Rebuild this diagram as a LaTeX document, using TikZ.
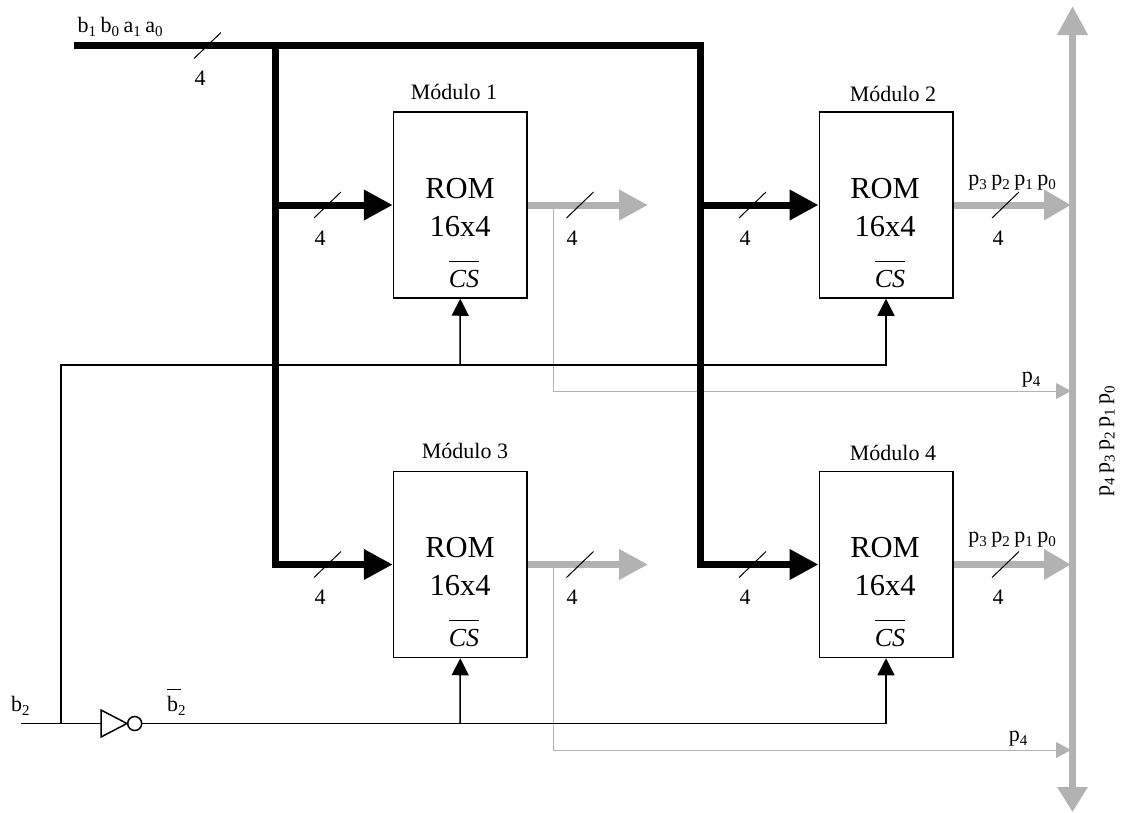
\documentclass[tikz,border=0pt]{standalone}
\usepackage{fontspec}
\setmainfont{Liberation Serif}
\usetikzlibrary{arrows.meta}
\definecolor{busgray}{RGB}{178,178,178}
\newcommand{\ovl}[3]{\setbox0=\hbox{#3}\rlap{\rule[#1]{\wd0}{#2}}\box0}
\newcommand{\subs}[2]{#1\raisebox{-0.22em}{\fontsize{15}{17}\selectfont #2}}
\newcommand{\gp}{\hspace{4.5pt}}
\newcommand{\busmark}[2]{\draw[markline] (#1-13.5,#2+13) -- (#1+13.5,#2-13);}
\tikzset{
  x=1pt,y=-1pt,
  rombox/.style={draw,line width=1.5pt,minimum width=133.5pt,minimum height=186pt,inner sep=0pt},
  blackbus/.style={line width=7pt,black,line join=miter},
  graybus/.style={line width=7pt,busgray},
  wideblack/.style={blackbus,-{Triangle[length=29pt,width=29pt]}},
  widegray/.style={graybus,-{Triangle[length=29pt,width=29pt]}},
  ctrl/.style={line width=1.5pt,black},
  ctrlarrow/.style={ctrl,-{Triangle[length=17pt,width=17pt]}},
  thingray/.style={line width=1pt,busgray},
  thinarrow/.style={thingray,-{Triangle[length=15pt,width=16pt]}},
  markline/.style={line width=1pt,black},
  small/.style={inner sep=0pt,anchor=base,font=\fontsize{22}{26}\selectfont},
  big/.style={inner sep=0pt,anchor=base,font=\fontsize{30.5}{34}\selectfont},
  csbar/.style={inner sep=0pt,anchor=base,font=\fontsize{26}{30}\selectfont\itshape},
}
\begin{document}
\begin{tikzpicture}
\useasboundingbox (0,0) rectangle (1125,812);
% coordinates
\coordinate (start) at (74,45);
\coordinate (lefttop) at (275,45);
\coordinate (rightcorner) at (700,45);
\coordinate (leftbot) at (275,564.5);
\coordinate (rightbot) at (700,564.5);
\coordinate (j1) at (275,205);
\coordinate (j2) at (700,205);
\coordinate (o1) at (648,205);
\coordinate (o3) at (648,564.5);
\coordinate (tapa) at (553,205);
\coordinate (tapb) at (553,391);
\coordinate (tapc) at (553,564.5);
\coordinate (tapd) at (553,750);
\coordinate (busa) at (1071,205);
\coordinate (busb) at (1071,391);
\coordinate (busc) at (1071,564.5);
\coordinate (busd) at (1071,750);
\coordinate (bustop) at (1072.5,6);
\coordinate (busbot) at (1072.5,812);
\coordinate (in) at (21,723.5);
\coordinate (split) at (61,723.5);
\coordinate (upleft) at (61,365);
\coordinate (t1) at (460,365);
\coordinate (t2) at (886,365);
\coordinate (t3) at (460,723.5);
\coordinate (t4) at (886,723.5);
% modules
\node[rombox] (m1) at (460.25,205) {};
\node[rombox] (m2) at (886,205) {};
\node[rombox] (m3) at (460.25,564.5) {};
\node[rombox] (m4) at (886,564.5) {};
% gray bus and outputs
\draw[graybus,{Triangle[length=29pt,width=29pt]}-{Triangle[length=25pt,width=29pt]}] (bustop) -- (busbot);
\draw[thingray] (tapa) -- (tapb);
\draw[thinarrow] (tapb) -- (busb);
\draw[thingray] (tapc) -- (tapd);
\draw[thinarrow] (tapd) -- (busd);
\draw[widegray] (m1.east) -- (o1);
\draw[widegray] (m3.east) -- (o3);
\draw[widegray,-{Triangle[length=27pt,width=29pt]}] (m2.east) -- (busa);
\draw[widegray,-{Triangle[length=27pt,width=29pt]}] (m4.east) -- (busc);
% control lines
\draw[ctrl] (t1) -- (upleft) -- (split);
\draw[ctrl] (in) -- (split);
\draw[ctrlarrow] (t1) -- (t2) -- (m2.south);
\draw[ctrlarrow] (t1) -- (m1.south);
\draw[ctrlarrow] (t3) -- (m3.south);
% inverter
\node[draw,line width=1.5pt,circle,minimum size=14pt,inner sep=0pt] (notb) at (134.7,723.5) {};
\draw[ctrl,fill=white,line join=miter] (101,710) coordinate (inva) -- (101,737) -- (notb.west) -- cycle;
\draw[ctrl] (split) -- (inva |- split);
\draw[ctrlarrow] (notb.east) -- (t4) -- (m4.south);
% black bus
\draw[blackbus] (start) -- (rightcorner) -- (j2);
\draw[wideblack] (j2) -- (m2.west);
\draw[wideblack] (rightcorner) -- (rightbot) -- (m4.west);
\draw[wideblack] (lefttop) -- (leftbot) -- (m3.west);
\draw[wideblack] (j1) -- (m1.west);
% slashes
\busmark{207.5}{45.5}
\busmark{327.5}{205}
\busmark{580}{205}
\busmark{752.5}{205}
\busmark{1005.5}{205}
\busmark{327.5}{564.5}
\busmark{580}{564.5}
\busmark{752.5}{564.5}
\busmark{1005.5}{564.5}
% texts
\node[small,anchor=base west] (tinput) at (77.5,32) {\subs{b}{1}\gp\subs{b}{0}\gp\subs{a}{1}\gp\subs{a}{0}};
\node[small] (n0) at (200,85) {4};
\foreach \nx/\ny [count=\i] in {320/245,572/245,745/245,998/245,320/604,572/604,745/604,998/604}
  \node[small] (nb\i) at (\nx,\ny) {4};
\node[small] (l1) at (454,99) {Módulo 1};
\node[small] (l2) at (893,101.5) {Módulo 2};
\node[small] (l3) at (465,458) {Módulo 3};
\node[small] (l4) at (893,460) {Módulo 4};
\foreach \cx/\sx/\dy [count=\i] in {460/464/0,885/890/0,460/464/359,885/890/359}{
  \node[big] (rom\i) at (\cx,198+\dy) {ROM};
  \node[big] (sz\i) at (\cx,236+\dy) {16x4};
  \node[csbar] (cs\i) at (\sx,287+\dy) {\ovl{25pt}{1pt}{CS}};
}
\node[small] (pa) at (1012,185) {\subs{p}{3}\gp\subs{p}{2}\gp\subs{p}{1}\gp\subs{p}{0}};
\node[small] (pb) at (1012,542) {\subs{p}{3}\gp\subs{p}{2}\gp\subs{p}{1}\gp\subs{p}{0}};
\node[small] (pc) at (1031,382) {\subs{p}{4}};
\node[small] (pd) at (1018,741) {\subs{p}{4}};
\node[inner sep=0pt,rotate=90,font=\fontsize{22}{26}\selectfont] (pall) at (1107,441) {\subs{p}{4}\gp\subs{p}{3}\gp\subs{p}{2}\gp\subs{p}{1}\gp\subs{p}{0}};
\node[small,anchor=base west] (bin) at (11,711) {\subs{b}{2}};
\node[small,anchor=base west] (bnot) at (167,711) {\rlap{\rule[21.5pt]{14pt}{1pt}}b\raisebox{-0.22em}{\fontsize{15}{17}\selectfont 2}};
\end{tikzpicture}
\end{document}
